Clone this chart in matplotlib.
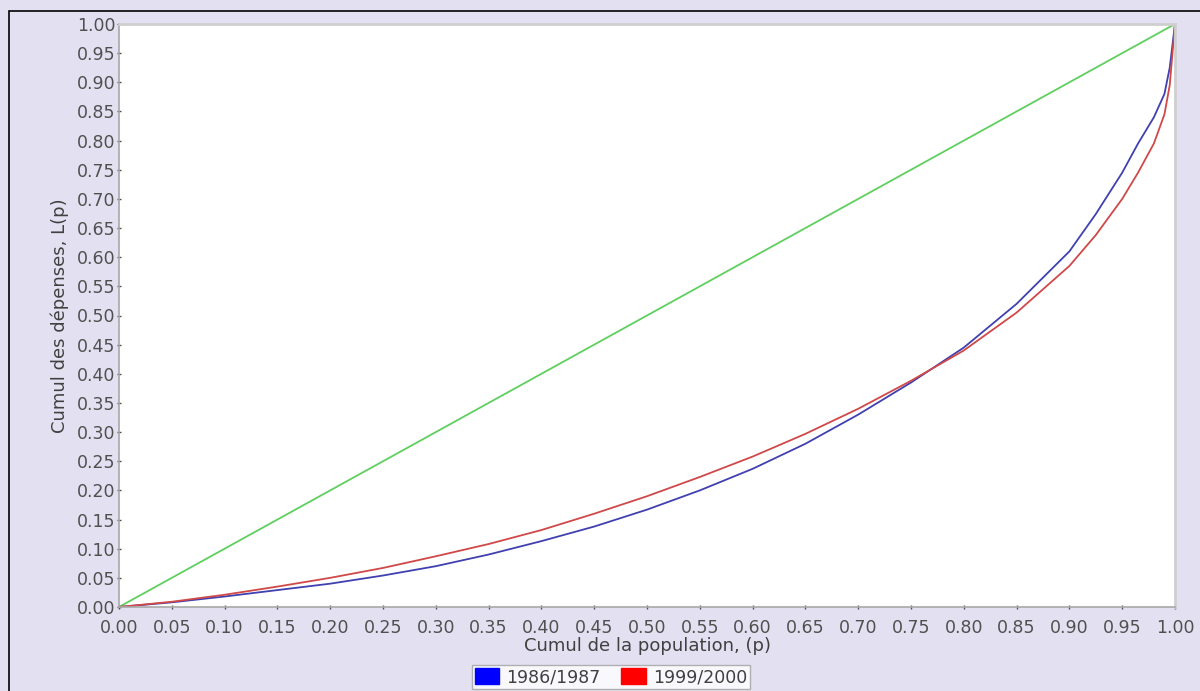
import matplotlib.pyplot as plt
from matplotlib.patches import Rectangle, Patch

# Courbes de Lorenz
p = [0.0, 0.05, 0.10, 0.15, 0.20, 0.25, 0.30, 0.35, 0.40, 0.45, 0.50, 0.55,
     0.60, 0.65, 0.70, 0.75, 0.80, 0.85, 0.90, 0.925, 0.95, 0.965, 0.98,
     0.99, 0.995, 1.0]
lp_1986 = [0.0, 0.008, 0.018, 0.029, 0.040, 0.054, 0.070, 0.090, 0.113, 0.138,
           0.167, 0.200, 0.237, 0.280, 0.330, 0.385, 0.445, 0.520, 0.610, 0.674,
           0.745, 0.795, 0.840, 0.880, 0.925, 1.0]
lp_1999 = [0.0, 0.009, 0.021, 0.035, 0.050, 0.067, 0.087, 0.108, 0.132, 0.160,
           0.190, 0.223, 0.258, 0.297, 0.340, 0.388, 0.440, 0.505, 0.585, 0.638,
           0.700, 0.745, 0.795, 0.845, 0.895, 1.0]
egalite = [0.0, 1.0]
ticks = [i * 0.05 for i in range(21)]
tick_labels = ["%.2f" % t for t in ticks]

fig = plt.figure(figsize=(12, 6.91), dpi=100)
fig.patch.set_facecolor('#e3e1f1')
fig.patches.append(Rectangle((9 / 1200, -0.1), 1.2, 1 - 11 / 691 + 0.1,
                             transform=fig.transFigure, fill=False,
                             edgecolor='black', linewidth=1.2))

ax = fig.add_axes([119 / 1200, 1 - 607 / 691, 1056 / 1200, 583 / 691])
ax.set_facecolor('white')

ax.plot(egalite, egalite, color='#5fcf5f', linewidth=1.3)
ax.plot(p, lp_1986, color='#4040b0', linewidth=1.3)
ax.plot(p, lp_1999, color='#d04848', linewidth=1.3)

ax.set_xlim(0, 1)
ax.set_ylim(0, 1)
ax.set_xticks(ticks)
ax.set_xticklabels(tick_labels)
ax.set_yticks(ticks)
ax.set_yticklabels(tick_labels)
ax.tick_params(axis='both', labelsize=12.5, colors='#505050', length=3,
               width=1, direction='inout')
ax.tick_params(axis='x', pad=7)
ax.tick_params(axis='y', pad=1)

for s in ['left', 'bottom']:
    ax.spines[s].set_color('#a8a8a8')
    ax.spines[s].set_linewidth(1.2)
for s in ['top', 'right']:
    ax.spines[s].set_color('#cfcfcf')
    ax.spines[s].set_linewidth(2)

ax.set_xlabel('Cumul de la population, (p)', fontsize=13, color='#404040', labelpad=0)
ax.set_ylabel('Cumul des dépenses, L(p)', fontsize=13, color='#404040', labelpad=6)

handles = [Patch(facecolor='#0000ff', edgecolor='#0000ff', label='1986/1987'),
           Patch(facecolor='#ff0000', edgecolor='#ff0000', label='1999/2000')]
leg = fig.legend(handles=handles, loc='center', bbox_to_anchor=(611 / 1200, 1 - 677 / 691),
                 ncol=2, fontsize=12.5, frameon=True, fancybox=False,
                 handlelength=1.4, handleheight=1.0, handletextpad=0.4,
                 columnspacing=1.2, borderpad=0.2)
leg.get_frame().set_edgecolor('#a0a0a0')
leg.get_frame().set_facecolor('white')
for t in leg.get_texts():
    t.set_color('#404040')

fig.savefig('out.png', dpi=100, facecolor=fig.get_facecolor())
